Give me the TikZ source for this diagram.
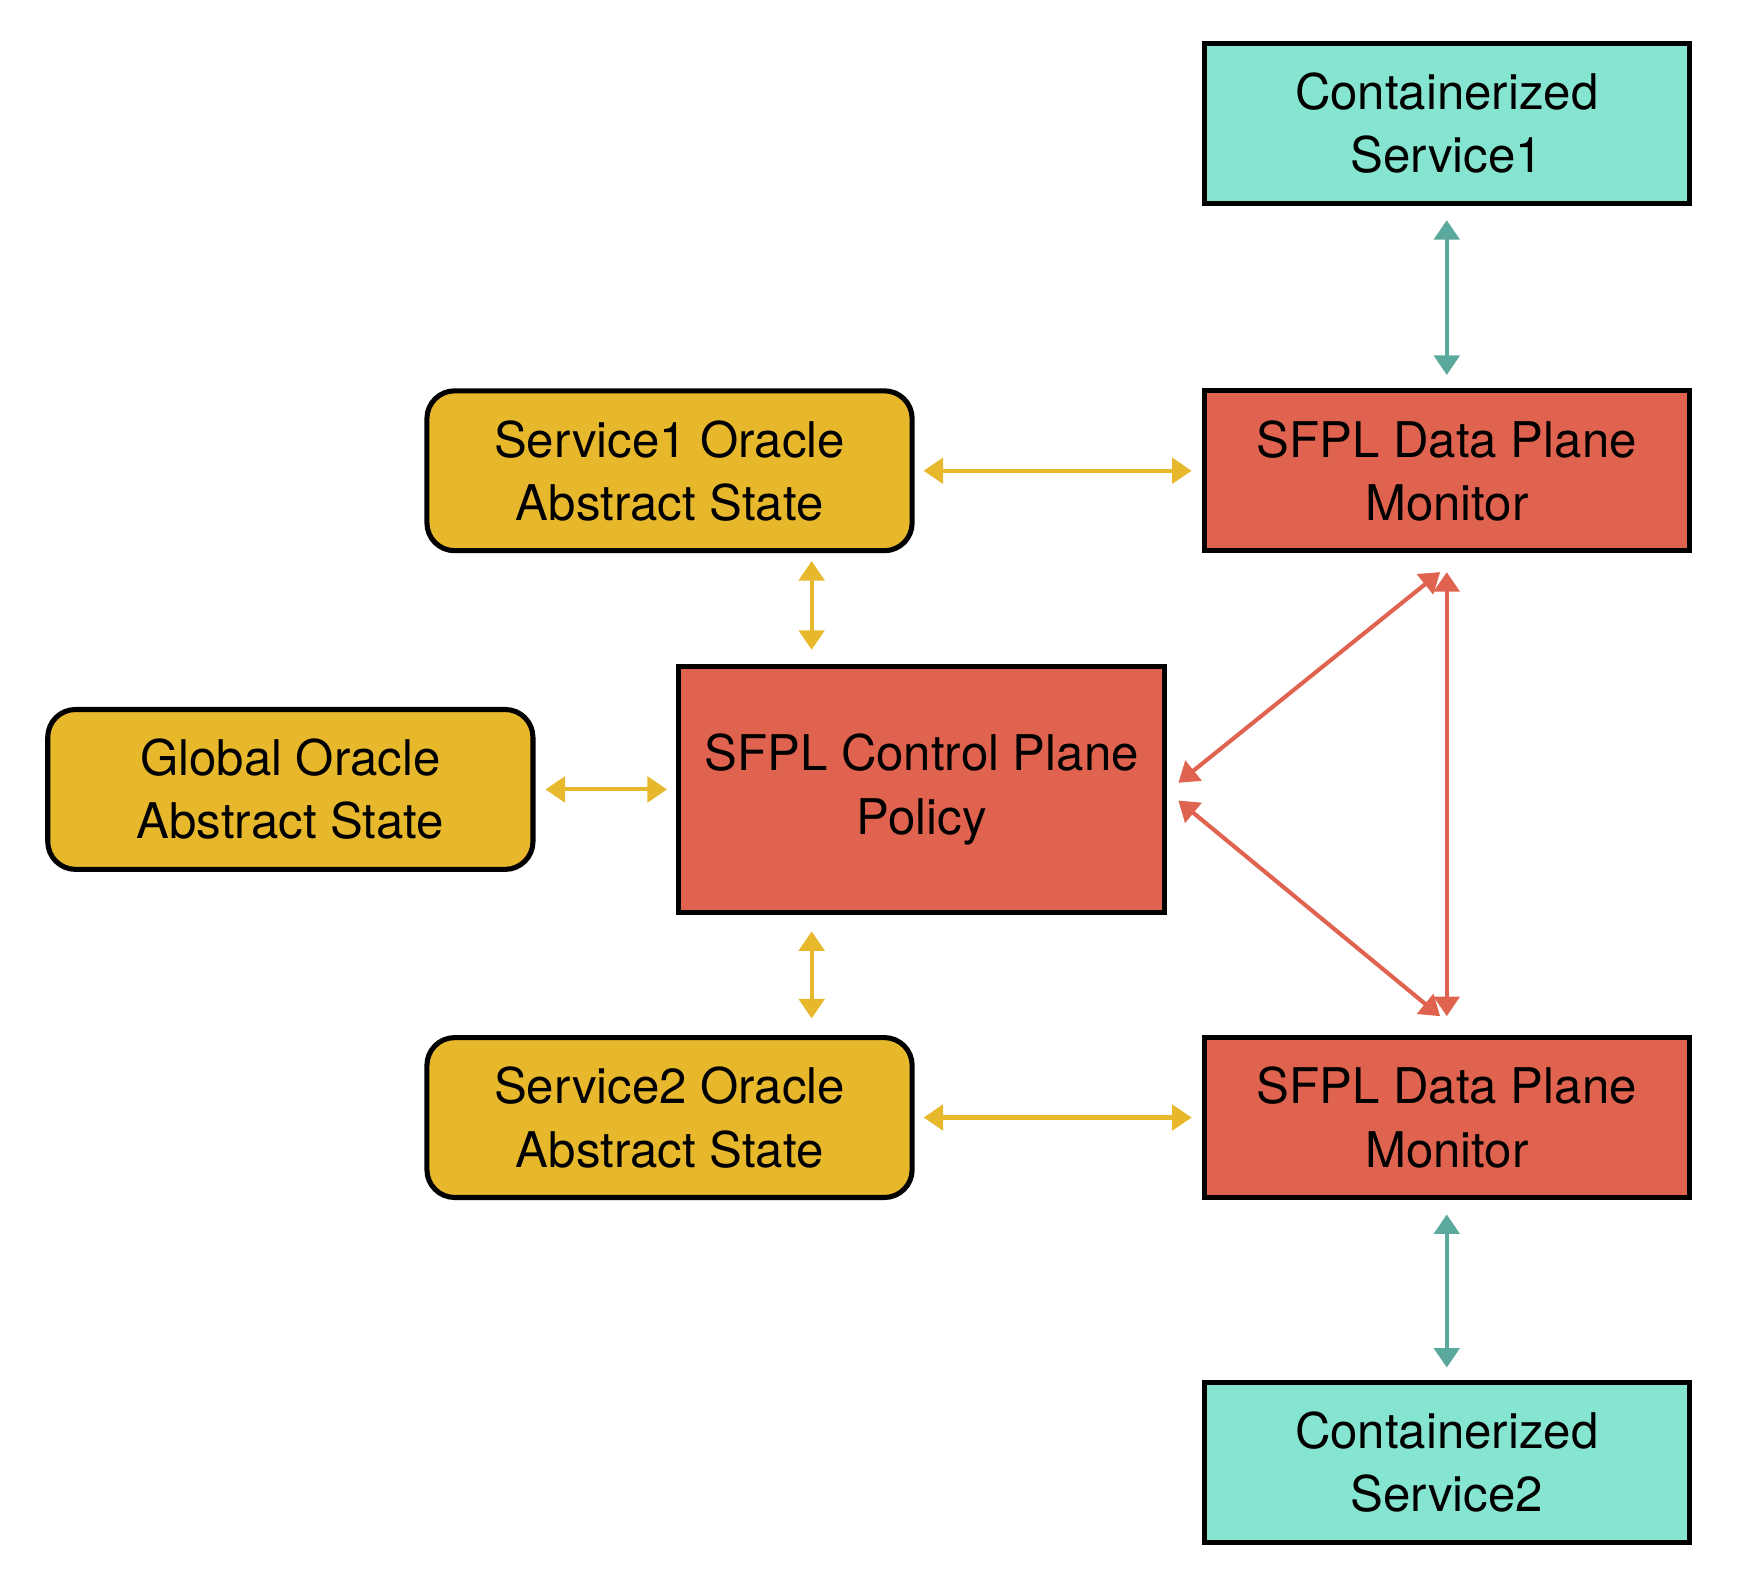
\documentclass[tikz,border=0pt]{standalone}
\usepackage{fontspec}
\setmainfont{TeX Gyre Heros}
\usetikzlibrary{arrows.meta}

\definecolor{boxteal}{HTML}{85E5D0}
\definecolor{boxred}{HTML}{E0634F}
\definecolor{boxyellow}{HTML}{E7B82B}
\definecolor{lineteal}{HTML}{5BA99C}

\tikzset{
  block/.style={draw=black, line width=1.3pt, minimum width=4.37cm, minimum height=1.44cm,
                inner sep=0pt, align=center, font=\fontsize{12.6}{16.2}\selectfont},
  container/.style={block, fill=boxteal},
  plane/.style={block, fill=boxred},
  oracle/.style={block, fill=boxyellow, rounded corners=0.25cm},
  link/.style={{Triangle[length=5pt,width=6.5pt]}-{Triangle[length=5pt,width=6.5pt]}, line width=1.05pt}
}

\begin{document}
\begin{tikzpicture}
    \useasboundingbox (0,0) rectangle (15.68,14.29);

    % boxes
    \node[container] (cs1) at (13.03,13.18) {Containerized\\Service1};
    \node[plane] (dpm1) at (13.03,10.05) {SFPL Data Plane\\Monitor};
    \node[oracle] (s1o) at (6.03,10.05) {Service1 Oracle\\Abstract State};
    \node[oracle] (gos) at (2.615,7.18) {Global Oracle\\Abstract State};
    \node[plane, minimum width=4.38cm, minimum height=2.21cm] (cp) at (8.30,7.18) {SFPL Control Plane\\Policy};
    \node[oracle] (s2o) at (6.03,4.225) {Service2 Oracle\\Abstract State};
    \node[plane] (dpm2) at (13.03,4.225) {SFPL Data Plane\\Monitor};
    \node[container] (cs2) at (13.03,1.12) {Containerized\\Service2};
    \coordinate (mid) at (7.31,7.18);

    % links
    \draw[link, lineteal, shorten <=0.13cm, shorten >=0.12cm] (cs1.south) -- (dpm1.north);
    \draw[link, lineteal, shorten <=0.13cm, shorten >=0.11cm] (dpm2.south) -- (cs2.north);
    \draw[link, boxyellow, shorten <=0.08cm, shorten >=0.09cm] (s1o.east) -- (dpm1.west);
    \draw[link, boxyellow, shorten <=0.08cm, shorten >=0.09cm] (s2o.east) -- (dpm2.west);
    \draw[link, boxyellow, shorten <=0.07cm, shorten >=0.13cm] (s1o.south -| mid) -- (cp.north -| mid);
    \draw[link, boxyellow, shorten <=0.15cm, shorten >=0.15cm] (cp.south -| mid) -- (s2o.north -| mid);
    \draw[link, boxyellow, shorten <=0.09cm, shorten >=0.08cm] (gos.east) -- (cp.west);
    \draw[link, boxred, shorten <=0.17cm, shorten >=0.17cm] (dpm1.south) -- (dpm2.north);
    \draw[link, boxred] ([xshift=0.10cm,yshift=0.06cm]cp.east) -- ([xshift=-0.06cm,yshift=-0.17cm]dpm1.south);
    \draw[link, boxred] ([xshift=0.10cm,yshift=-0.10cm]cp.east) -- ([xshift=-0.06cm,yshift=0.17cm]dpm2.north);
\end{tikzpicture}
\end{document}
